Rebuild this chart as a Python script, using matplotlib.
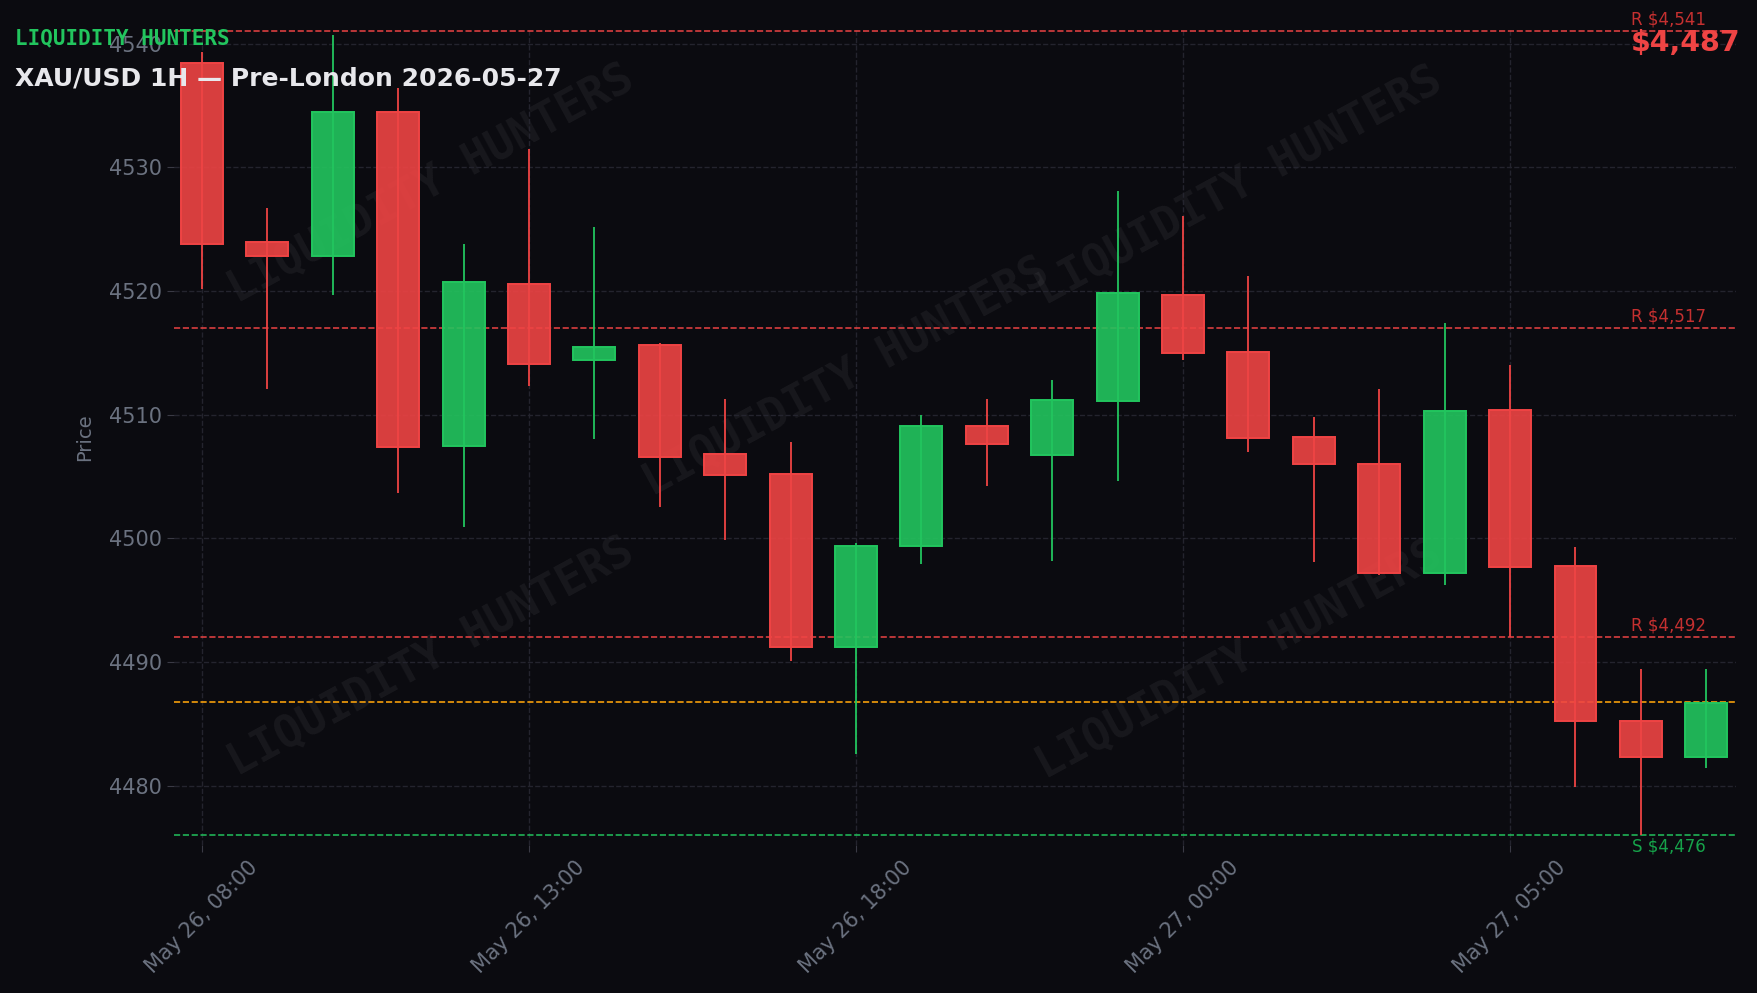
import matplotlib
matplotlib.use('Agg')
import matplotlib.pyplot as plt

# ---------------- data ----------------
tick_idx = [0, 5, 10, 15, 20]
tick_labels = ['May 26, 08:00', 'May 26, 13:00', 'May 26, 18:00',
               'May 27, 00:00', 'May 27, 05:00']

opens  = [4538.4, 4524.0, 4522.8, 4534.5, 4507.5, 4520.6, 4514.4, 4515.6,
          4506.8, 4505.2, 4491.2, 4499.4, 4509.1, 4506.7, 4511.1, 4519.7,
          4515.1, 4508.2, 4506.0, 4497.2, 4510.4, 4497.8, 4485.2, 4482.3]
closes = [4523.8, 4522.8, 4534.5, 4507.4, 4520.7, 4514.1, 4515.5, 4506.6,
          4505.1, 4491.2, 4499.4, 4509.1, 4507.6, 4511.2, 4519.8, 4515.0,
          4508.1, 4506.0, 4497.2, 4510.3, 4497.7, 4485.2, 4482.3, 4486.7]
highs  = [4539.3, 4526.7, 4540.7, 4536.4, 4523.8, 4531.5, 4525.2, 4515.8,
          4511.3, 4507.8, 4499.6, 4510.0, 4511.3, 4512.8, 4528.1, 4526.1,
          4521.2, 4509.8, 4512.1, 4517.4, 4514.0, 4499.3, 4489.4, 4489.4]
lows   = [4520.2, 4512.1, 4519.7, 4503.7, 4500.9, 4512.3, 4508.0, 4502.5,
          4499.9, 4490.1, 4482.6, 4497.9, 4504.2, 4498.2, 4504.6, 4514.4,
          4507.0, 4498.1, 4497.0, 4496.2, 4492.0, 4479.9, 4476.0, 4481.4]

resistance_levels = [4541, 4517, 4492]
support_levels = [4476]
current_price = 4486.8
price_text = '$4,487'
title_text = 'XAU/USD 1H — Pre-London 2026-05-27'
brand_text = 'LIQUIDITY HUNTERS'

# ---------------- style ----------------
BG = '#0b0b10'
RED = '#ef4444'
GREEN = '#22c55e'
GRID = '#24242e'
TXT = '#6b7280'

fig = plt.figure(figsize=(17.58, 9.93), dpi=100, facecolor=BG)
ax = fig.add_axes([0.0989, 0.149, 0.8884, 0.822])
ax.set_facecolor(BG)

n = len(opens)
xs = list(range(n))

# watermarks
wm_pos = [(0.245, 0.814), (0.705, 0.812), (0.481, 0.620), (0.245, 0.338), (0.705, 0.335)]
for (wx, wy) in wm_pos:
    ax.text(wx, wy, brand_text, transform=fig.transFigure, rotation=28.5,
            ha='center', va='center', family='DejaVu Sans Mono', weight='bold',
            fontsize=32, color='#ffffff', alpha=0.055, zorder=0)

# candles
up = [c >= o for o, c in zip(opens, closes)]
cols = [GREEN if u else RED for u in up]
ax.vlines(xs, lows, highs, colors=cols, linewidth=1.3, zorder=2)
bottoms = [min(o, c) for o, c in zip(opens, closes)]
heights = [abs(c - o) for o, c in zip(opens, closes)]
ax.bar(xs, heights, bottom=bottoms, width=0.64, color=cols, alpha=0.9,
       edgecolor=cols, linewidth=1.3, zorder=3)
ax.bar(xs, heights, bottom=bottoms, width=0.64, fill=False,
       edgecolor=cols, linewidth=1.3, zorder=4)

# levels
for lv in resistance_levels:
    ax.axhline(lv, color=RED, linestyle='--', linewidth=1.2, alpha=0.9, zorder=1.5)
    ax.text(n - 1, lv + 0.2, f'R ${lv:,}', color='#c53030', fontsize=12,
            ha='right', va='bottom', zorder=5)
for lv in support_levels:
    ax.axhline(lv, color=GREEN, linestyle='--', linewidth=1.2, alpha=0.9, zorder=1.5)
    ax.text(n - 1, lv - 0.2, f'S ${lv:,}', color='#16a34a', fontsize=12,
            ha='right', va='top', zorder=5)
ax.axhline(current_price, color='#f59e0b', linestyle='--', linewidth=1.2, zorder=1.5)

# axes styling
ax.set_xlim(-0.43, 23.45)
ax.set_ylim(4475.2, 4541.2)
ax.set_xticks(tick_idx)
ax.set_xticklabels(tick_labels, rotation=45, ha='center')
ax.set_yticks([4480, 4490, 4500, 4510, 4520, 4530, 4540])
ax.tick_params(axis='both', colors='#3a3a45', labelcolor=TXT, labelsize=15, length=5)
ax.grid(True, color=GRID, linestyle='--', linewidth=1.0, zorder=0)
ax.set_axisbelow(True)
for sp in ax.spines.values():
    sp.set_visible(False)
ax.set_ylabel('Price', color=TXT, fontsize=14, labelpad=11)

# header texts
fig.text(0.0083, 0.961, brand_text, family='DejaVu Sans Mono', weight='bold',
         fontsize=15, color=GREEN, ha='left', va='center')
fig.text(0.0083, 0.921, title_text, weight='bold', fontsize=18,
         color='#e8e8ec', ha='left', va='center')
fig.text(0.990, 0.957, price_text, weight='bold', fontsize=20.5,
         color=RED, ha='right', va='center')

fig.savefig('out.png', dpi=100, facecolor=BG)
